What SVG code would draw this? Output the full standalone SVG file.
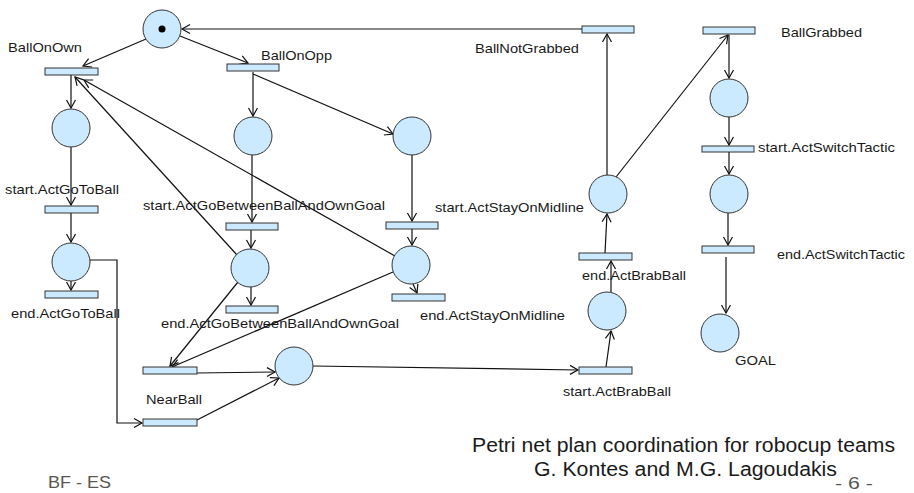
<svg xmlns="http://www.w3.org/2000/svg" width="914" height="493" viewBox="0 0 914 493">
<defs>
<marker id="arr" viewBox="-10 -6 12 12" refX="0" refY="0" markerWidth="12" markerHeight="12" markerUnits="userSpaceOnUse" orient="auto">
<path d="M-8,-4.5 L0,0 L-8,4.5" fill="none" stroke="#111" stroke-width="1.2"/>
</marker>
<style>
.pl{fill:#cceaff;stroke:#333;stroke-width:1}
.tr{fill:#cceaff;stroke:#333;stroke-width:1}
.c{fill:none;stroke:#111;stroke-width:1.2;marker-end:url(#arr)}
.lb{font-family:"Liberation Sans",Arial,sans-serif;font-size:13.5px;fill:#1a1a1a}
.ti{font-family:"Liberation Sans",Arial,sans-serif;font-size:20px;fill:#1a1a1a}
.ft{font-family:"Liberation Sans",Arial,sans-serif;font-size:17px;fill:#5c5752}
</style>
</defs>
<rect width="914" height="493" fill="#fff"/>
<g id="connectors">
<line class="c" x1="146" y1="39" x2="83" y2="66"/>
<line class="c" x1="180" y1="36" x2="248" y2="63"/>
<line class="c" x1="582" y1="29" x2="182" y2="29"/>
<line class="c" x1="71" y1="75" x2="71" y2="108"/>
<line class="c" x1="71" y1="147" x2="71" y2="205"/>
<line class="c" x1="71" y1="213" x2="71" y2="242"/>
<line class="c" x1="71" y1="281" x2="71" y2="290"/>
<polyline class="c" points="90,260 117,260 117,423 142,423"/>
<line class="c" x1="253" y1="72" x2="253" y2="116"/>
<line class="c" x1="253" y1="74" x2="393" y2="134"/>
<line class="c" x1="252" y1="155" x2="252" y2="222"/>
<line class="c" x1="251" y1="230" x2="251" y2="248"/>
<line class="c" x1="251" y1="287" x2="251" y2="305"/>
<line class="c" x1="237" y1="255" x2="75" y2="77"/>
<line class="c" x1="238" y1="282" x2="170" y2="366"/>
<line class="c" x1="412" y1="155" x2="412" y2="221"/>
<line class="c" x1="412" y1="229" x2="412" y2="245"/>
<line class="c" x1="413" y1="284" x2="417" y2="293"/>
<line class="c" x1="395" y1="256" x2="84" y2="80"/>
<line class="c" x1="393" y1="272" x2="172" y2="367"/>
<line class="c" x1="197" y1="373" x2="275" y2="372"/>
<line class="c" x1="197" y1="420" x2="279" y2="378"/>
<line class="c" x1="313" y1="366" x2="578" y2="370"/>
<line class="c" x1="606" y1="367" x2="611" y2="331"/>
<line class="c" x1="611" y1="292" x2="611" y2="261"/>
<line class="c" x1="605" y1="253" x2="607" y2="214"/>
<line class="c" x1="607" y1="175" x2="607" y2="34"/>
<line class="c" x1="616" y1="177" x2="728" y2="35"/>
<line class="c" x1="729" y1="35" x2="729" y2="78"/>
<line class="c" x1="729" y1="117" x2="729" y2="145"/>
<line class="c" x1="729" y1="152" x2="729" y2="174"/>
<line class="c" x1="728" y1="213" x2="728" y2="245"/>
<line class="c" x1="726" y1="257" x2="726" y2="313"/>
</g>
<g id="p_start"><circle class="pl" cx="162" cy="29" r="19"/><circle cx="162" cy="29" r="3.5" fill="#000"/></g>
<g id="p_own1"><circle class="pl" cx="71" cy="128" r="19"/></g>
<g id="p_own2"><circle class="pl" cx="71" cy="262" r="19"/></g>
<g id="p_opp1"><circle class="pl" cx="253" cy="136" r="19"/></g>
<g id="p_opp2"><circle class="pl" cx="412" cy="136" r="19"/></g>
<g id="p_gb"><circle class="pl" cx="250" cy="268" r="19"/></g>
<g id="p_mid"><circle class="pl" cx="411" cy="265" r="19"/></g>
<g id="p_near"><circle class="pl" cx="294" cy="366" r="19"/></g>
<g id="p_grab2"><circle class="pl" cx="607" cy="311" r="19"/></g>
<g id="p_grab1"><circle class="pl" cx="608" cy="194" r="19"/></g>
<g id="p_sw1"><circle class="pl" cx="729" cy="98" r="19"/></g>
<g id="p_sw2"><circle class="pl" cx="729" cy="194" r="19"/></g>
<g id="p_goal"><circle class="pl" cx="720" cy="333" r="19"/><text class="lb" x="735" y="365" textLength="41" lengthAdjust="spacingAndGlyphs">GOAL</text></g>
<g id="t_own"><rect class="tr" x="45" y="68" width="53" height="7"/><text class="lb" x="8" y="52" textLength="74" lengthAdjust="spacingAndGlyphs">BallOnOwn</text></g>
<g id="t_opp"><rect class="tr" x="227" y="64" width="52" height="7"/><text class="lb" x="261" y="60" textLength="71" lengthAdjust="spacingAndGlyphs">BallOnOpp</text></g>
<g id="t_notgrab"><rect class="tr" x="582" y="26" width="52" height="7"/><text class="lb" x="475" y="53" textLength="104" lengthAdjust="spacingAndGlyphs">BallNotGrabbed</text></g>
<g id="t_grab"><rect class="tr" x="703" y="27" width="52" height="7"/><text class="lb" x="781" y="37" textLength="81" lengthAdjust="spacingAndGlyphs">BallGrabbed</text></g>
<g id="t_gotostart"><rect class="tr" x="45" y="206" width="53" height="7"/><text class="lb" x="5" y="194" textLength="114" lengthAdjust="spacingAndGlyphs">start.ActGoToBall</text></g>
<g id="t_gotoend"><rect class="tr" x="45" y="291" width="53" height="7"/><text class="lb" x="11" y="318" textLength="109" lengthAdjust="spacingAndGlyphs">end.ActGoToBall</text></g>
<g id="t_gbstart"><rect class="tr" x="226" y="223" width="52" height="7"/><text class="lb" x="143" y="210" textLength="242" lengthAdjust="spacingAndGlyphs">start.ActGoBetweenBallAndOwnGoal</text></g>
<g id="t_gbend"><rect class="tr" x="226" y="306" width="52" height="7"/><text class="lb" x="161" y="328" textLength="238" lengthAdjust="spacingAndGlyphs">end.ActGoBetweenBallAndOwnGoal</text></g>
<g id="t_midstart"><rect class="tr" x="386" y="222" width="52" height="7"/><text class="lb" x="435" y="212" textLength="149" lengthAdjust="spacingAndGlyphs">start.ActStayOnMidline</text></g>
<g id="t_midend"><rect class="tr" x="392" y="294" width="53" height="7"/><text class="lb" x="420" y="320" textLength="145" lengthAdjust="spacingAndGlyphs">end.ActStayOnMidline</text></g>
<g id="t_near1"><rect class="tr" x="143" y="367" width="54" height="7"/></g>
<g id="t_near2"><rect class="tr" x="143" y="419" width="54" height="7"/><text class="lb" x="146" y="404" textLength="56" lengthAdjust="spacingAndGlyphs">NearBall</text></g>
<g id="t_brabstart"><rect class="tr" x="579" y="367" width="53" height="7"/><text class="lb" x="563" y="396" textLength="108" lengthAdjust="spacingAndGlyphs">start.ActBrabBall</text></g>
<g id="t_brabend"><rect class="tr" x="579" y="253" width="53" height="7"/><text class="lb" x="582" y="280" textLength="104" lengthAdjust="spacingAndGlyphs">end.ActBrabBall</text></g>
<g id="t_swstart"><rect class="tr" x="702" y="146" width="52" height="6"/><text class="lb" x="758" y="152" textLength="137" lengthAdjust="spacingAndGlyphs">start.ActSwitchTactic</text></g>
<g id="t_swend"><rect class="tr" x="702" y="246" width="52" height="7"/><text class="lb" x="777" y="259" textLength="128" lengthAdjust="spacingAndGlyphs">end.ActSwitchTactic</text></g>
<g id="caption">
<text class="ti" x="472" y="452" textLength="423" lengthAdjust="spacingAndGlyphs">Petri net plan coordination for robocup teams</text>
<text class="ti" x="534" y="476" textLength="303" lengthAdjust="spacingAndGlyphs">G. Kontes and M.G. Lagoudakis</text>
<text class="ft" x="48" y="488" textLength="63" lengthAdjust="spacingAndGlyphs">BF - ES</text>
<text class="ft" x="835" y="489" font-size="16" textLength="38" lengthAdjust="spacingAndGlyphs">- 6 -</text>
</g>
</svg>
